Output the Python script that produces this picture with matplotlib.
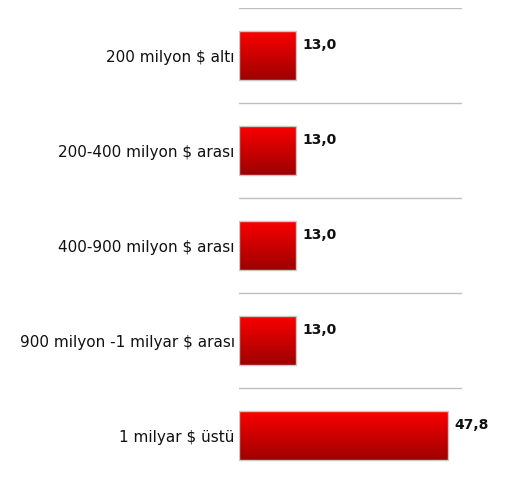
import numpy as np
import matplotlib.pyplot as plt
from matplotlib.colors import LinearSegmentedColormap

# Data
categories = ['200 milyon $ altı', '200-400 milyon $ arası', '400-900 milyon $ arası',
              '900 milyon -1 milyar $ arası', '1 milyar $ üstü']
values = [13.0, 13.0, 13.0, 13.0, 47.8]
value_labels = ['13,0', '13,0', '13,0', '13,0', '47,8']

plt.rcParams['font.family'] = ['DejaVu Sans']

fig = plt.figure(figsize=(5.07, 4.79), dpi=100)
ax = fig.add_axes([239/507, -4/479, 223/507, 475/479])

y = np.arange(len(categories))
bars = ax.barh(y, values, height=0.52, color='none', edgecolor='#c8c8c8', linewidth=1, zorder=3)

# vertical red gradient inside each bar, clipped to the bar shape
cmap = LinearSegmentedColormap.from_list('redgrad', ['#ff0000', '#9a0000'])
grad = np.linspace(0, 1, 256).reshape(-1, 1)
for b in bars:
    x0, y0, w, h = b.get_x(), b.get_y(), b.get_width(), b.get_height()
    im = ax.imshow(grad, cmap=cmap, aspect='auto',
                   extent=(x0 - 1, x0 + w + 1, y0 + h + 0.02, y0 - 0.02),
                   zorder=2, interpolation='bilinear')
    im.set_clip_path(b)

ax.set_xlim(0, 51)
ax.set_ylim(len(categories) - 0.5, -0.5)

ax.set_yticks(y)
ax.set_yticklabels(categories, fontsize=11, color='#111111')
ax.tick_params(axis='y', length=0, pad=3)
ax.set_xticks([])
ax.set_yticks(np.arange(-0.5, len(categories) + 0.5, 1), minor=True)
ax.tick_params(axis='y', which='minor', length=0)
ax.grid(True, axis='y', which='minor', color='#bfbfbf', linewidth=1)
for s in ax.spines.values():
    s.set_visible(False)

for b, lab in zip(bars, value_labels):
    ax.annotate(lab, (b.get_width(), b.get_y() + b.get_height() / 2),
                xytext=(4.5, 7.5), textcoords='offset points', va='center', ha='left',
                fontsize=10, fontweight='bold', color='#111111')

fig.savefig('out.png', dpi=100)
